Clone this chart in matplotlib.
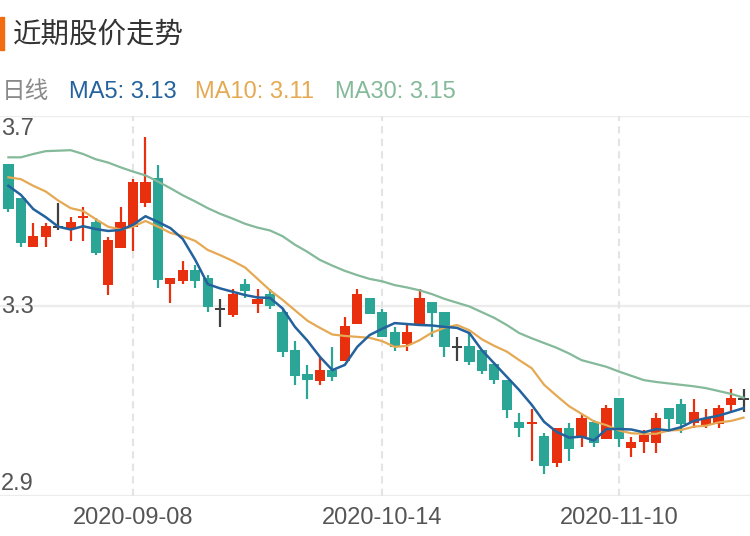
import matplotlib
matplotlib.use("Agg")
import matplotlib.pyplot as plt
from matplotlib.patches import Rectangle
from matplotlib.transforms import blended_transform_factory, offset_copy
import numpy as np
import pandas as pd

# ---------------- data ----------------
dates = [d.strftime("%Y-%m-%d") for d in pd.bdate_range("2020-08-25", "2020-11-24")
         if not ("2020-10-01" <= d.strftime("%Y-%m-%d") <= "2020-10-08")]

opens = [3.599, 3.527, 3.424, 3.445, 3.467, 3.462, 3.485, 3.477, 3.344, 3.423,
         3.467, 3.517, 3.569, 3.346, 3.353, 3.376, 3.360, 3.294, 3.281, 3.346,
         3.304, 3.325, 3.288, 3.207, 3.157, 3.142, 3.165, 3.184, 3.262, 3.316,
         3.287, 3.246, 3.221, 3.262, 3.309, 3.287, 3.213, 3.216, 3.207, 3.178,
         3.144, 3.055, 3.052, 3.026, 2.969, 3.044, 3.025, 3.055, 3.021, 3.106,
         3.002, 3.013, 3.011, 3.085, 3.093, 3.053, 3.049, 3.051, 3.092, 3.104]
highs = [3.600, 3.528, 3.474, 3.474, 3.517, 3.487, 3.508, 3.485, 3.445, 3.508,
         3.567, 3.656, 3.597, 3.358, 3.395, 3.386, 3.365, 3.315, 3.336, 3.357,
         3.336, 3.335, 3.296, 3.227, 3.176, 3.192, 3.213, 3.276, 3.336, 3.316,
         3.293, 3.255, 3.265, 3.335, 3.309, 3.287, 3.234, 3.243, 3.207, 3.178,
         3.144, 3.074, 3.083, 3.032, 3.044, 3.054, 3.073, 3.061, 3.092, 3.106,
         3.024, 3.040, 3.074, 3.085, 3.104, 3.104, 3.083, 3.092, 3.125, 3.125]
lows = [3.498, 3.425, 3.424, 3.425, 3.459, 3.437, 3.437, 3.407, 3.323, 3.423,
        3.416, 3.509, 3.337, 3.307, 3.346, 3.337, 3.287, 3.256, 3.277, 3.316,
        3.286, 3.294, 3.193, 3.134, 3.104, 3.134, 3.143, 3.184, 3.262, 3.283,
        3.234, 3.206, 3.206, 3.262, 3.235, 3.193, 3.185, 3.176, 3.156, 3.135,
        3.064, 3.025, 2.974, 2.946, 2.962, 2.974, 3.004, 3.004, 3.021, 3.004,
        2.983, 2.991, 2.991, 3.039, 3.033, 3.043, 3.043, 3.043, 3.077, 3.076]
closes = [3.504, 3.433, 3.447, 3.468, 3.467, 3.476, 3.489, 3.412, 3.439, 3.477,
          3.562, 3.562, 3.355, 3.358, 3.376, 3.353, 3.297, 3.294, 3.325, 3.332,
          3.314, 3.301, 3.204, 3.153, 3.144, 3.165, 3.151, 3.258, 3.325, 3.283,
          3.234, 3.214, 3.246, 3.317, 3.285, 3.214, 3.213, 3.183, 3.163, 3.144,
          3.081, 3.043, 3.056, 2.963, 3.044, 2.999, 3.065, 3.012, 3.085, 3.021,
          3.014, 3.028, 3.064, 3.062, 3.051, 3.076, 3.065, 3.085, 3.106, 3.104]

ma5 = [3.553, 3.534, 3.504, 3.487, 3.467, 3.461, 3.468, 3.462, 3.458, 3.460,
       3.471, 3.489, 3.477, 3.464, 3.441, 3.397, 3.346, 3.337, 3.330, 3.323,
       3.318, 3.317, 3.295, 3.256, 3.227, 3.193, 3.165, 3.176, 3.214, 3.239,
       3.252, 3.264, 3.262, 3.260, 3.259, 3.256, 3.254, 3.243, 3.207, 3.179,
       3.151, 3.123, 3.092, 3.056, 3.035, 3.023, 3.025, 3.017, 3.041, 3.041,
       3.040, 3.034, 3.041, 3.038, 3.045, 3.058, 3.064, 3.069, 3.077, 3.085]
ma10 = [3.571, 3.567, 3.553, 3.541, 3.522, 3.506, 3.500, 3.483, 3.467, 3.461,
        3.467, 3.479, 3.467, 3.454, 3.447, 3.437, 3.418, 3.407, 3.395, 3.381,
        3.357, 3.333, 3.313, 3.291, 3.269, 3.254, 3.240, 3.237, 3.235, 3.233,
        3.226, 3.214, 3.216, 3.228, 3.244, 3.254, 3.260, 3.249, 3.230, 3.216,
        3.204, 3.186, 3.169, 3.134, 3.111, 3.089, 3.073, 3.057, 3.049, 3.038,
        3.032, 3.031, 3.031, 3.038, 3.039, 3.046, 3.048, 3.055, 3.058, 3.065]
ma30 = [3.613, 3.613, 3.620, 3.626, 3.627, 3.628, 3.620, 3.609, 3.602, 3.592,
        3.583, 3.575, 3.562, 3.548, 3.533, 3.520, 3.506, 3.494, 3.484, 3.473,
        3.465, 3.459, 3.447, 3.429, 3.414, 3.397, 3.385, 3.374, 3.365, 3.357,
        3.352, 3.344, 3.339, 3.333, 3.325, 3.315, 3.307, 3.299, 3.287, 3.275,
        3.260, 3.243, 3.232, 3.222, 3.212, 3.200, 3.186, 3.179, 3.172, 3.162,
        3.153, 3.144, 3.140, 3.137, 3.134, 3.131, 3.127, 3.121, 3.115, 3.107]

y_ticks = [2.9, 3.3, 3.7]
y_tick_labels = ["2.9", "3.3", "3.7"]
x_tick_dates = ["2020-09-08", "2020-10-14", "2020-11-10"]

title = "近期股价走势"
legend_items = [("日线", "#8a8a8a"), ("MA5: 3.13", "#23629c"),
                ("MA10: 3.11", "#e5a953"), ("MA30: 3.15", "#84b999")]

# ---------------- style ----------------
RED = "#e8300f"
GREEN = "#2aa596"
GRAY = "#404040"
C_MA5, C_MA10, C_MA30 = "#23629c", "#e5a953", "#84b999"
LATIN = ["Liberation Sans", "DejaVu Sans"]
CJK = ["Noto Sans CJK SC", "DejaVu Sans"]

W, H = 750, 536
fig = plt.figure(figsize=(W / 100, H / 100), dpi=100)

# plot area: x 0..750 px, y 116..496 px
ax = fig.add_axes([0, 1 - 496 / H, 1, 380 / H])
n = len(dates)
x = np.arange(n)
ax.set_xlim(-0.674, 59.52)
ax.set_ylim(2.9, 3.7)
for s in ax.spines.values():
    s.set_visible(False)

# gridlines
for v in y_ticks:
    ax.axhline(v, color="#ececec", lw=1.6, zorder=0)
tick_idx = [dates.index(d) for d in x_tick_dates]
for i in tick_idx:
    ax.axvline(i, color="#e4e4e4", lw=1.5, ls=(0, (3.5, 2.5)), zorder=0)

# candles
o = np.array(opens); c = np.array(closes); hi = np.array(highs); lo = np.array(lows)
colors = []
for oo, cc in zip(o, c):
    if cc > oo:
        colors.append(RED)
    elif cc < oo:
        colors.append(GREEN)
    else:
        colors.append(GRAY)
ax.vlines(x, lo, hi, colors=colors, lw=1.6, zorder=2)
bottom = np.minimum(o, c)
height = np.maximum(np.abs(c - o), 0.004)
ax.bar(x, height, bottom=bottom - np.where(np.abs(c - o) < 0.004, 0.002, 0), width=0.82,
       color=colors, zorder=3, linewidth=0)

# MA lines
ax.plot(x, ma30, color=C_MA30, lw=1.6, zorder=4)
ax.plot(x, ma10, color=C_MA10, lw=1.6, zorder=4)
ax.plot(x, ma5, color=C_MA5, lw=1.8, zorder=5)

# y labels
tr = blended_transform_factory(ax.transAxes, ax.transData)
for v, lab in zip(y_ticks, y_tick_labels):
    if v == max(y_ticks):
        ax.text(0.001, v, lab, transform=offset_copy(tr, fig=fig, y=-2, units="dots"),
                ha="left", va="top", fontsize=17, color="#555555", family=LATIN)
    elif v == min(y_ticks):
        ax.text(0.001, v, lab, transform=offset_copy(tr, fig=fig, y=1, units="dots"),
                ha="left", va="bottom", fontsize=17, color="#555555", family=LATIN)
    else:
        ax.text(0.001, v, lab, transform=offset_copy(tr, fig=fig, y=-1, units="dots"),
                ha="left", va="center", fontsize=17, color="#555555", family=LATIN)

ax.set_yticks([])
ax.set_xticks(tick_idx)
ax.set_xticklabels(x_tick_dates, fontsize=17, color="#555555", family=LATIN)
ax.tick_params(axis="x", length=0, pad=8)

# title + marker
fig.patches.append(Rectangle((0, 1 - 50 / H), 4 / W, 33 / H, transform=fig.transFigure,
                             color="#f26b10", zorder=5))
fig.text(13 / W, 1 - 35 / H, title, fontsize=20.5, color="#333333", family=CJK,
         ha="left", va="center")

# legend row
xs = [2, 69, 195, 335]
for (txt, col), xp in zip(legend_items, xs):
    fig.text(xp / W, 1 - 92 / H, txt, fontsize=17, color=col,
             family=CJK if txt == "日线" else LATIN, ha="left", va="center")

fig.savefig("out.png", dpi=100)
